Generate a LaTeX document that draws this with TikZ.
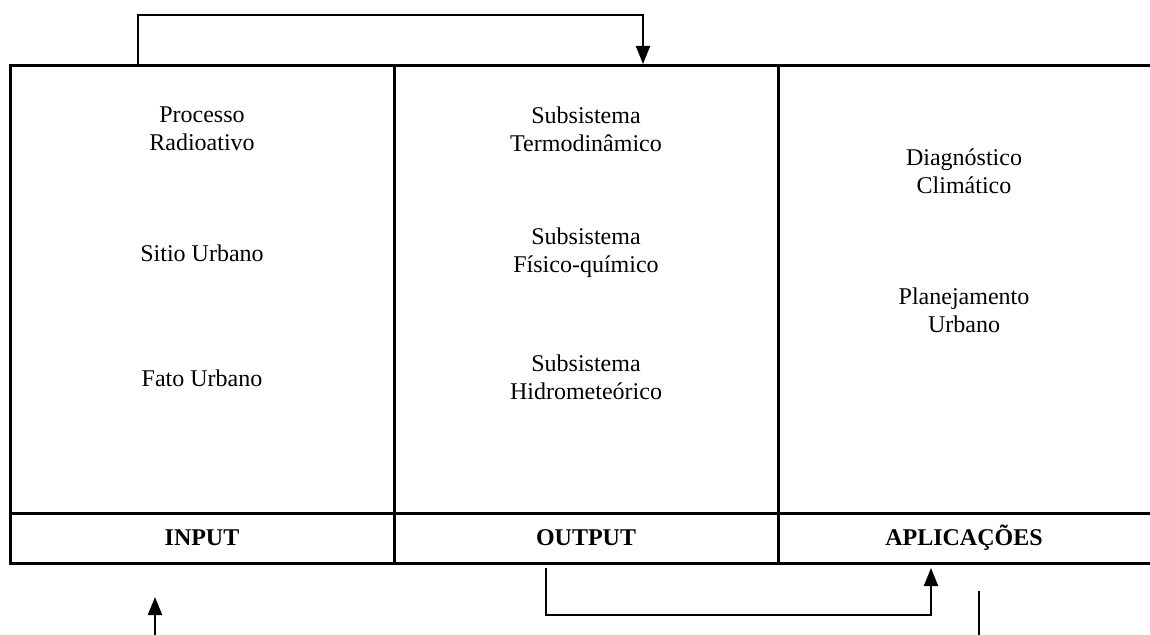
\documentclass[tikz,border=0pt]{standalone}
\usepackage{fontspec}
\setmainfont{Liberation Serif}
\usetikzlibrary{arrows.meta}
\begin{document}
\begin{tikzpicture}[x=0.5pt,y=-0.5pt,
  grid/.style={line width=1.5pt},
  link/.style={line width=1pt},
  tip/.style={-{Triangle[width=7pt,length=9pt]}},
  cell/.style={align=center,font=\fontsize{12pt}{14pt}\selectfont,inner sep=0pt},
  head/.style={cell,font=\fontsize{12pt}{14pt}\selectfont\bfseries}]
\useasboundingbox (0,0) rectangle (1150,635);
% table frame
\draw[grid] (1150,66) -- (10,66) -- (10,563) -- (1150,563);
\draw[grid] (10,513) -- (1150,513);
\draw[grid] (394,66) -- (394,563);
\draw[grid] (778,66) -- (778,563);
% column contents
\node[cell] (p1) at (202,129) {Processo\\Radioativo};
\node[cell] (p2) at (202,253) {Sitio Urbano};
\node[cell] (p3) at (202,378) {Fato Urbano};
\node[cell] (s1) at (586,129) {Subsistema\\Termodinâmico};
\node[cell] (s2) at (586,253) {Subsistema\\Físico-químico};
\node[cell] (s3) at (586,377) {Subsistema\\Hidrometeórico};
\node[cell] (a1) at (964,171) {Diagnóstico\\Climático};
\node[cell] (a2) at (964,310) {Planejamento\\Urbano};
\node[head] (hin) at (202,538) {INPUT};
\node[head] (hout) at (586,538) {OUTPUT};
\node[head] (happ) at (964,538) {APLICAÇÕES};
% connector end points
\coordinate (t0) at (138,66);
\coordinate (t1) at (643,64);
\coordinate (b0) at (546,568);
\coordinate (b1) at (931,568);
\coordinate (f0) at (155,635);
\coordinate (f1) at (155,597);
\coordinate (r0) at (979,591);
\coordinate (r1) at (979,635);
% connectors
\draw[link,tip] (t0) -- (138,15) -| (t1);
\draw[link,tip] (b0) -- (546,615) -| (b1);
\draw[link,tip] (f0) -- (f1);
\draw[link] (r0) -- (r1);
\end{tikzpicture}
\end{document}
